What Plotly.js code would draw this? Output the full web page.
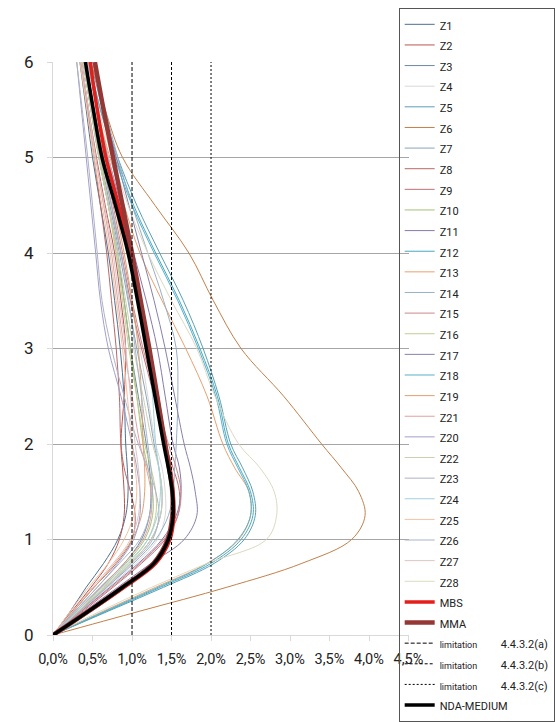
<!DOCTYPE html>
<html><head><meta charset="utf-8">
<script src="https://cdn.plot.ly/plotly-3.0.1.min.js"></script>
<style>html,body{margin:0;padding:0;background:#fff}</style>
</head><body><div id="chart" style="width:555px;height:722px"></div>
<script>
// storey levels (y) shared by all profiles
const storey = [0,0.25,0.5,0.75,1,1.25,1.5,1.75,2,2.5,3,3.5,4,4.5,5,5.5,6];

// inter-storey drift (%) per zone
const Z1  = [0,0.22,0.42,0.64,0.82,0.92,0.95,0.94,0.92,0.90,0.85,0.78,0.70,0.60,0.50,0.42,0.34];
const Z2  = [0,0.24,0.48,0.70,0.84,0.90,0.90,0.88,0.86,0.90,0.92,0.86,0.78,0.66,0.55,0.45,0.36];
const Z3  = [0,0.30,0.60,0.90,1.12,1.22,1.24,1.22,1.18,1.08,0.98,0.90,0.82,0.70,0.58,0.48,0.38];
const Z4  = [0,0.35,0.70,1.05,1.32,1.42,1.42,1.38,1.30,1.20,1.10,0.98,0.86,0.72,0.60,0.50,0.40];
const Z5  = [0,0.70,1.40,2.04,2.42,2.56,2.53,2.40,2.25,2.10,1.90,1.65,1.35,1.06,0.82,0.63,0.48];
const Z6  = [0,1.10,2.20,3.15,3.78,3.95,3.87,3.65,3.40,2.92,2.38,2.03,1.72,1.29,0.88,0.66,0.48];
const Z7  = [0,0.33,0.66,0.98,1.24,1.36,1.38,1.34,1.28,1.18,1.06,0.95,0.84,0.72,0.60,0.50,0.40];
const Z8  = [0,0.26,0.52,0.80,1.00,1.04,0.98,0.90,0.86,0.84,0.80,0.74,0.68,0.60,0.52,0.44,0.36];
const Z9  = [0,0.38,0.76,1.12,1.42,1.58,1.60,1.52,1.42,1.28,1.12,0.98,0.86,0.74,0.62,0.52,0.42];
const Z10 = [0,0.30,0.62,0.92,1.16,1.26,1.26,1.20,1.14,1.06,0.98,0.90,0.80,0.70,0.58,0.48,0.38];
const Z11 = [0,0.36,0.72,1.08,1.38,1.56,1.62,1.60,1.52,1.42,1.32,1.18,1.02,0.86,0.70,0.56,0.44];
const Z12 = [0,0.68,1.36,2.00,2.38,2.53,2.50,2.36,2.22,2.08,1.86,1.60,1.30,1.02,0.80,0.60,0.46];
const Z13 = [0,0.64,1.30,1.95,2.35,2.50,2.48,2.30,2.15,1.95,1.68,1.38,1.10,0.90,0.72,0.56,0.45];
const Z14 = [0,0.34,0.68,1.02,1.30,1.46,1.52,1.54,1.56,1.58,1.56,1.40,1.20,1.00,0.82,0.66,0.52];
const Z15 = [0,0.36,0.74,1.10,1.40,1.58,1.62,1.56,1.46,1.30,1.14,1.00,0.88,0.76,0.64,0.52,0.42];
const Z16 = [0,0.32,0.64,0.96,1.20,1.30,1.30,1.24,1.16,1.06,0.96,0.88,0.80,0.70,0.60,0.50,0.40];
const Z17 = [0,0.40,0.82,1.24,1.66,1.82,1.80,1.74,1.66,1.54,1.42,1.28,1.12,0.96,0.80,0.64,0.50];
const Z18 = [0,0.66,1.33,1.96,2.34,2.50,2.48,2.34,2.20,2.06,1.84,1.58,1.28,1.00,0.78,0.60,0.46];
const Z19 = [0,0.26,0.52,0.78,1.00,1.12,1.16,1.16,1.14,1.12,1.08,1.00,0.90,0.78,0.64,0.52,0.42];
const Z20 = [0,0.28,0.56,0.82,1.02,1.10,1.10,1.06,1.00,0.86,0.70,0.60,0.54,0.48,0.42,0.36,0.30];
const Z21 = [0,0.30,0.60,0.90,1.14,1.24,1.24,1.18,1.10,1.00,0.90,0.82,0.74,0.64,0.54,0.45,0.36];
const Z22 = [0,0.32,0.66,0.98,1.24,1.36,1.38,1.34,1.26,1.14,1.02,0.92,0.82,0.70,0.58,0.48,0.38];
const Z23 = [0,0.34,0.68,1.00,1.26,1.34,1.30,1.20,1.08,0.90,0.74,0.62,0.56,0.50,0.44,0.37,0.30];
const Z24 = [0,0.30,0.62,0.94,1.20,1.32,1.36,1.34,1.30,1.26,1.20,1.10,0.98,0.84,0.70,0.56,0.44];
const Z25 = [0,0.22,0.45,0.70,0.90,1.02,1.06,1.04,1.00,0.94,0.88,0.80,0.72,0.62,0.52,0.43,0.34];
const Z26 = [0,0.28,0.56,0.84,1.10,1.22,1.26,1.24,1.20,1.12,1.04,0.96,0.86,0.74,0.62,0.50,0.40];
const Z27 = [0,0.25,0.50,0.76,0.98,1.08,1.10,1.08,1.04,0.98,0.92,0.84,0.76,0.65,0.54,0.45,0.36];
const Z28 = [0,0.60,1.25,1.95,2.70,2.83,2.80,2.62,2.35,2.05,1.82,1.50,1.20,0.95,0.75,0.58,0.45];
const MBS = [0,0.46,0.90,1.30,1.48,1.53,1.52,1.48,1.42,1.32,1.21,1.10,0.98,0.83,0.67,0.56,0.47];
const MMA = [0,0.45,0.88,1.27,1.45,1.51,1.51,1.47,1.42,1.32,1.22,1.11,1.00,0.88,0.76,0.64,0.53];
const NDA = [0,0.45,0.88,1.28,1.46,1.52,1.51,1.46,1.40,1.29,1.18,1.07,0.95,0.79,0.62,0.51,0.41];

// limitation lines (drift %)
const limitValues = [1.0, 1.5, 2.0];
const limitNames = ['4.4.3.2(a)','4.4.3.2(b)','4.4.3.2(c)'];
const limitSpan = [0, 6];

// axis ticks
const xTicks = [0,0.5,1,1.5,2,2.5,3,3.5,4,4.5];
const xTickText = xTicks.map(v => v.toFixed(1).replace('.', ',') + '%');
const yTicks = [0,1,2,3,4,5,6];

const zoneNames = ['Z1','Z2','Z3','Z4','Z5','Z6','Z7','Z8','Z9','Z10','Z11','Z12','Z13','Z14','Z15','Z16','Z17','Z18','Z19','Z21','Z20','Z22','Z23','Z24','Z25','Z26','Z27','Z28'];
const zoneSeries = [Z1,Z2,Z3,Z4,Z5,Z6,Z7,Z8,Z9,Z10,Z11,Z12,Z13,Z14,Z15,Z16,Z17,Z18,Z19,Z21,Z20,Z22,Z23,Z24,Z25,Z26,Z27,Z28];
const zoneColors = ['#4f6f8f','#b85450','#6a8a9c','#d8d8d8','#5a9fb5','#c0804a','#8ca4b8','#b86868','#c07078','#a8c07c','#8878a8','#48a8c0','#e8a070','#98b0c4','#c88888','#c4cc90','#8880a8','#58b0c8','#e0a070','#e0a0a0','#a0a0cc','#cccfb4','#b0b0c4','#a0d0dc','#f4c0a0','#a8b4c8','#dcc4c4','#dcd8c0'];

const sp = (t, fs) => '<span style="font-size:' + fs + 'px">' + t + '</span>';
const traces = [];
zoneNames.forEach((n, i) => {
  traces.push({type:'scatter', mode:'lines', x: zoneSeries[i], y: storey, name: sp(n, 11),
    line:{color: zoneColors[i], width:1, shape:'spline', smoothing:1}});
});
traces.push({type:'scatter', mode:'lines', x: MBS, y: storey, name: sp('MBS',11), line:{color:'#e41e1a', width:3.5, shape:'spline'}});
traces.push({type:'scatter', mode:'lines', x: MMA, y: storey, name: sp('MMA',11), line:{color:'#953735', width:4.5, shape:'spline'}});
const dashes = ['4px,2px','3px,2px','2px,2px'];
limitValues.forEach((v, i) => {
  traces.push({type:'scatter', mode:'lines', x:[v, v], y: limitSpan,
    name: sp('limitation', 9) + '\u00a0\u00a0\u00a0\u00a0\u00a0\u00a0\u00a0' + sp(limitNames[i], 11),
    line:{color:'#000', width:1, dash: dashes[i]}});
});
traces.push({type:'scatter', mode:'lines', x: NDA, y: storey, name: sp('NDA-MEDIUM',11), line:{color:'#000', width:3.5, shape:'spline'}});

// page geometry: full-height grid so the tall legend fits; axes placed by domain
const W = 555, H = 722;
const plotLeft = 54, plotRight = 416, plotTop = 62, plotBottom = 635;
const layout = {
  width:W, height:H,
  margin:{l:0, r:0, t:0, b:0},
  paper_bgcolor:'#fff', plot_bgcolor:'rgba(0,0,0,0)',
  font:{family:'Roboto, Open Sans, sans-serif', color:'#222'},
  showlegend:true,
  legend:{x:406/W, y:(H-12.5)/H, xanchor:'left', yanchor:'top', bgcolor:'rgba(0,0,0,0)',
    bordercolor:'#555', borderwidth:1, font:{size:13.56, color:'#222'}, traceorder:'normal'},
  xaxis:{domain:[plotLeft/W, plotRight/W], anchor:'y', range:[0,4.5], tickvals:xTicks, ticktext:xTickText, showgrid:false,
    zeroline:false, showline:true, linecolor:'#d9d9d9', ticks:'outside', ticklen:5, tickcolor:'#d9d9d9',
    tickfont:{size:14.5, color:'#222'}, ticklabelstandoff:6, fixedrange:true, automargin:false},
  yaxis:{domain:[(H-plotBottom)/H, (H-plotTop)/H], anchor:'x', range:[0,6], tickvals:yTicks, showgrid:true, gridcolor:'#a6a6a6', gridwidth:1,
    zeroline:false, showline:true, linecolor:'#d9d9d9', ticks:'outside', ticklen:5, tickcolor:'#d9d9d9',
    tickfont:{size:17, color:'#222'}, ticklabelstandoff:10, fixedrange:true, automargin:false}
};
Plotly.newPlot('chart', traces, layout, {displayModeBar:false, staticPlot:true});
</script></body></html>
